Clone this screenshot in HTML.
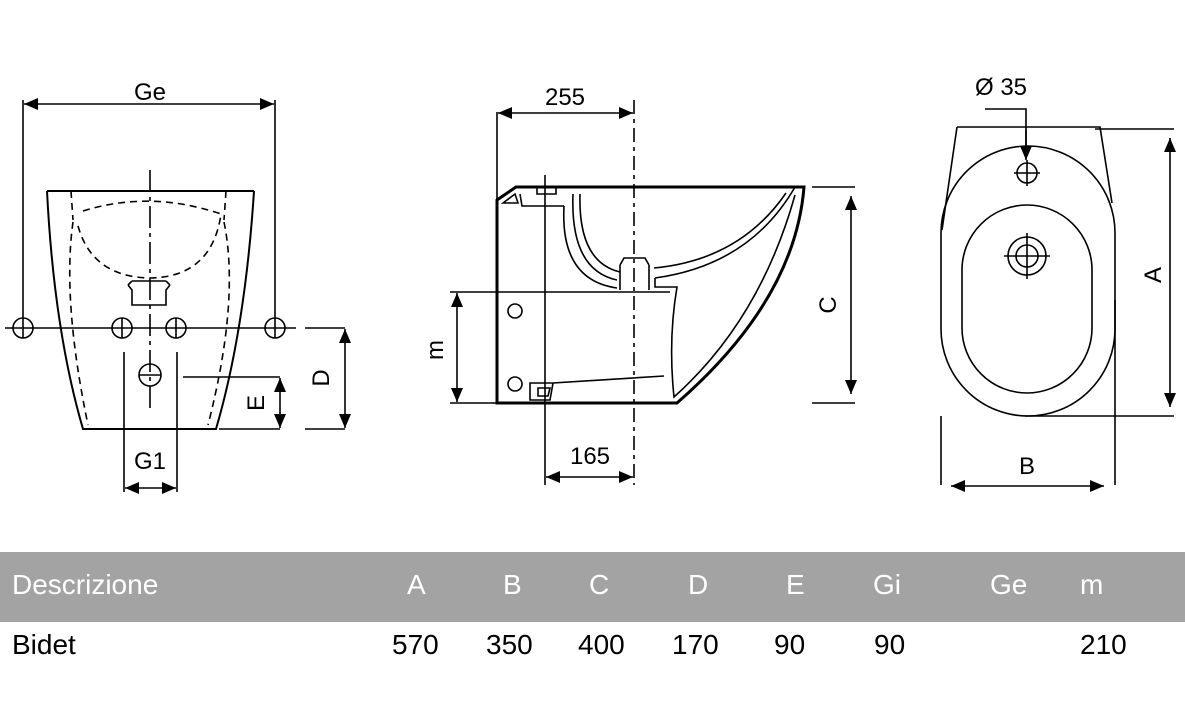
<!DOCTYPE html>
<html><head><meta charset="utf-8"><style>
html,body{margin:0;padding:0;background:#fff;width:1185px;height:714px;overflow:hidden;font-family:"Liberation Sans",Arial,sans-serif}
svg{position:absolute;left:0;top:0}
.bar{position:absolute;left:0;top:552px;width:1185px;height:70px;background:#a3a3a3}
.t{position:absolute;font-size:28px}
.h{color:#fff;top:569px}
.r{color:#000;top:629px}
</style></head><body>
<svg width="1185" height="540" viewBox="0 0 1185 540" fill="none" stroke="#000" stroke-width="1.6" font-family="Liberation Sans, Arial, sans-serif">
<defs>
<marker id="a" viewBox="0 0 14 12" refX="14" refY="6" markerWidth="14" markerHeight="12" orient="auto-start-reverse" markerUnits="userSpaceOnUse"><path d="M0,0 L14,6 L0,12z" fill="#000" stroke="none"/></marker>
</defs>
<!-- LEFT VIEW -->
<line x1="23" y1="100" x2="23" y2="318"/>
<line x1="275" y1="100" x2="275" y2="318"/>
<line x1="24" y1="104" x2="274" y2="104" marker-start="url(#a)" marker-end="url(#a)" stroke-width="1.4"/>
<text x="150" y="100" font-size="24" fill="#000" stroke="none" text-anchor="middle">Ge</text>
<path d="M47,191 L254,191 M47,191 Q54,330 83,429 L216,429 Q245,330 254,191" stroke-width="2"/>
<path d="M71,191 L73,220 M226,191 L224,220 M73,222 Q62,300 88,425 M224,222 Q240,300 208,425" stroke-dasharray="7,5"/>
<path d="M83,211 Q150,190 221,214 Q212,277 150,278 Q90,277 77,222" stroke-dasharray="7,5"/>
<path d="M128,285 L132,290 L132,305 L166,305 L166,290 L170,285 M132,281 L166,281 M128,285 L132,281 M170,285 L166,281"/>
<line x1="150" y1="170" x2="150" y2="410" stroke-dasharray="22,5,4,5"/>
<line x1="5" y1="328" x2="296" y2="328"/>
<g>
<circle cx="23" cy="328" r="10"/><line x1="23" y1="318" x2="23" y2="338"/>
<circle cx="122" cy="328" r="10"/><line x1="122" y1="318" x2="122" y2="338"/>
<circle cx="176" cy="328" r="10"/><line x1="176" y1="318" x2="176" y2="338"/>
<circle cx="275" cy="328" r="10"/><line x1="275" y1="318" x2="275" y2="338"/>
<circle cx="150" cy="375" r="11"/><line x1="139" y1="375" x2="161" y2="375"/>
</g>
<line x1="124" y1="352" x2="124" y2="492"/>
<line x1="177" y1="352" x2="177" y2="492"/>
<line x1="125" y1="488" x2="176" y2="488" marker-start="url(#a)" marker-end="url(#a)"/>
<text x="150" y="469" font-size="24" fill="#000" stroke="none" text-anchor="middle">G1</text>
<line x1="183" y1="377" x2="280" y2="377"/>
<line x1="219" y1="429" x2="280" y2="429"/>
<line x1="280" y1="378" x2="280" y2="428" marker-start="url(#a)" marker-end="url(#a)"/>
<text transform="translate(264,403) rotate(-90)" font-size="24" fill="#000" stroke="none" text-anchor="middle">E</text>
<line x1="305" y1="328" x2="345" y2="328"/>
<line x1="305" y1="429" x2="345" y2="429"/>
<line x1="345" y1="329" x2="345" y2="428" marker-start="url(#a)" marker-end="url(#a)"/>
<text transform="translate(329,378) rotate(-90)" font-size="24" fill="#000" stroke="none" text-anchor="middle">D</text>
<!-- SIDE VIEW -->
<line x1="497" y1="112" x2="497" y2="200"/>
<line x1="498" y1="113" x2="633" y2="113" marker-start="url(#a)" marker-end="url(#a)"/>
<text x="565" y="105" font-size="24" fill="#000" stroke="none" text-anchor="middle">255</text>
<line x1="634" y1="100" x2="634" y2="485" stroke-dasharray="14,5,4,5"/>
<line x1="545" y1="175" x2="545" y2="485"/>
<line x1="546" y1="477" x2="633" y2="477" marker-start="url(#a)" marker-end="url(#a)"/>
<text x="590" y="464" font-size="24" fill="#000" stroke="none" text-anchor="middle">165</text>
<path d="M497,200 L516,187 L804,187 Q795,300 677,403 L497,403 Z" stroke-width="3"/>
<path d="M503,203 L515,194 L518,203 Z M520,194 L522,206 L564,206 M537,187 L537,194 L556,194 L556,187"/>
<path d="M564,206 Q560,280 617,288 M573,194 Q570,270 617,280 M580,194 Q578,262 620,272 M620,265 L620,290 M649,265 L649,290 M620,265 L624,258 L645,258 L649,265"/>
<path d="M654,268 Q740,260 786,193 M655,278 Q750,265 795,187 M655,278 L655,287 L677,287 Q668,340 674,397 Q760,320 795,195"/>
<path d="M530,383 L530,400 L550,400 L553,383 Z M538,388 L538,396 L548,396 L550,388 Z M553,383 L664,376"/>
<line x1="450" y1="292" x2="670" y2="292"/>
<line x1="450" y1="403" x2="497" y2="403"/>
<line x1="457" y1="293" x2="457" y2="402" marker-start="url(#a)" marker-end="url(#a)"/>
<text transform="translate(443,350) rotate(-90)" font-size="24" fill="#000" stroke="none" text-anchor="middle">m</text>
<circle cx="515" cy="311" r="7"/><circle cx="515" cy="384" r="7"/>
<line x1="812" y1="187" x2="855" y2="187"/>
<line x1="812" y1="403" x2="855" y2="403"/>
<line x1="851" y1="196" x2="851" y2="394" marker-start="url(#a)" marker-end="url(#a)"/>
<text transform="translate(836,305) rotate(-90)" font-size="24" fill="#000" stroke="none" text-anchor="middle">C</text>
<!-- TOP VIEW -->
<text x="1001" y="95" font-size="24" fill="#000" stroke="none" text-anchor="middle">Ø 35</text>
<path d="M985,109 L1026,109 L1026,158" />
<line x1="1026" y1="130" x2="1026" y2="160" marker-end="url(#a)"/>
<path d="M957,127 L1100,127 L1112,203 M957,127 L942,230"/>
<rect x="941" y="146" width="174" height="270" rx="87" ry="87"/>
<rect x="962" y="205" width="130" height="188" rx="65" ry="65"/>
<circle cx="1027" cy="173" r="10"/><line x1="1014" y1="173" x2="1040" y2="173"/><line x1="1027" y1="160" x2="1027" y2="186"/>
<circle cx="1027" cy="256" r="19"/><circle cx="1027" cy="256" r="11"/><line x1="1004" y1="256" x2="1050" y2="256"/><line x1="1027" y1="233" x2="1027" y2="279"/>
<line x1="1095" y1="129" x2="1174" y2="129"/>
<line x1="1025" y1="416" x2="1174" y2="416"/>
<line x1="1170" y1="138" x2="1170" y2="407" marker-start="url(#a)" marker-end="url(#a)"/>
<text transform="translate(1161,275) rotate(-90)" font-size="24" fill="#000" stroke="none" text-anchor="middle">A</text>
<line x1="941" y1="416" x2="941" y2="485"/>
<line x1="1115" y1="300" x2="1115" y2="485"/>
<line x1="951" y1="486" x2="1104" y2="486" marker-start="url(#a)" marker-end="url(#a)"/>
<text x="1027" y="474" font-size="24" fill="#000" stroke="none" text-anchor="middle">B</text>
</svg>
<div class="bar"></div>
<div class="t h" style="left:12px">Descrizione</div>
<div class="t h" style="left:407px">A</div>
<div class="t h" style="left:503px">B</div>
<div class="t h" style="left:589px">C</div>
<div class="t h" style="left:688px">D</div>
<div class="t h" style="left:786px">E</div>
<div class="t h" style="left:873px">Gi</div>
<div class="t h" style="left:990px">Ge</div>
<div class="t h" style="left:1080px">m</div>
<div class="t r" style="left:12px">Bidet</div>
<div class="t r" style="left:392px">570</div>
<div class="t r" style="left:486px">350</div>
<div class="t r" style="left:578px">400</div>
<div class="t r" style="left:672px">170</div>
<div class="t r" style="left:774px">90</div>
<div class="t r" style="left:874px">90</div>
<div class="t r" style="left:1080px">210</div>
</body></html>
